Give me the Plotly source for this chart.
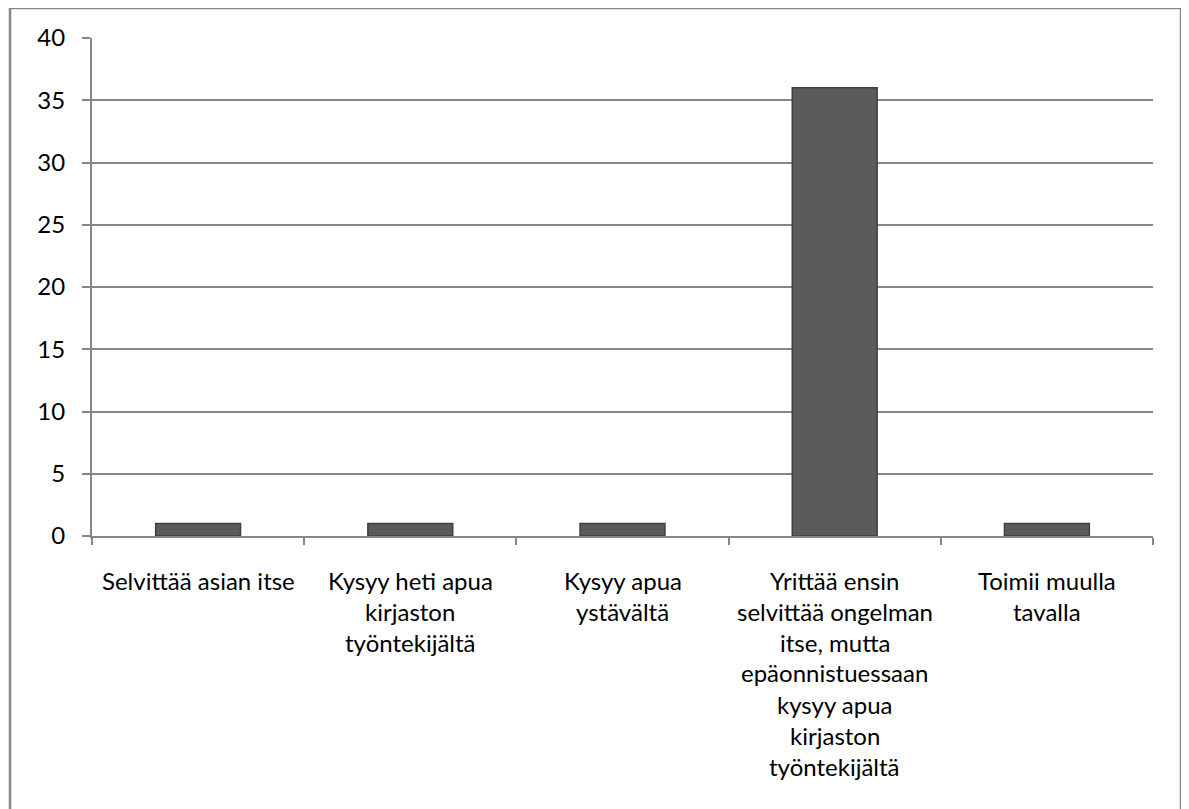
import plotly.graph_objects as go

categories = [
    "Selvittää asian itse",
    "Kysyy heti apua kirjaston työntekijältä",
    "Kysyy apua ystävältä",
    "Yrittää ensin selvittää ongelman itse, mutta epäonnistuessaan kysyy apua kirjaston työntekijältä",
    "Toimii muulla tavalla",
]
label_lines = [
    ["Selvittää asian itse"],
    ["Kysyy heti apua", "kirjaston", "työntekijältä"],
    ["Kysyy apua", "ystävältä"],
    ["Yrittää ensin", "selvittää ongelman", "itse, mutta", "epäonnistuessaan", "kysyy apua", "kirjaston", "työntekijältä"],
    ["Toimii muulla", "tavalla"],
]
values = [1, 1, 1, 36, 1]
y_ticks = [0, 5, 10, 15, 20, 25, 30, 35, 40]

W, H = 1189, 809
OFF = 8  # page body margin offset
L, R, T, B = 92 - OFF, 1153 - OFF, 38 - OFF, 536 - OFF
FONT = "Lato"

fig = go.Figure()
fig.add_trace(go.Bar(
    x=categories, y=values, width=0.4,
    marker=dict(color="#5b5b5b", line=dict(color="#3f3f3f", width=1.5)),
))

def px_x(p):
    return (p - OFF - L) / (R - L)

def px_y(p):
    return (B - (p - OFF)) / (B - T)

shapes = [dict(type="rect", xref="paper", yref="paper",
               x0=px_x(10), x1=px_x(1181), y0=px_y(840), y1=px_y(8),
               line=dict(color="#878787", width=2.5), fillcolor="rgba(0,0,0,0)", layer="below")]

annotations = []
for cat, lines in zip(categories, label_lines):
    for i, line in enumerate(lines):
        annotations.append(dict(
            x=cat, xref="x", yref="paper", y=px_y(580 + 31 * i),
            text=line, showarrow=False, xanchor="center", yanchor="middle",
            font=dict(family=FONT, size=24, color="#000000"),
        ))

fig.update_layout(
    width=W, height=H,
    margin=dict(l=L, r=W - R, t=T, b=H - B, pad=0),
    paper_bgcolor="white", plot_bgcolor="white",
    showlegend=False,
    shapes=shapes, annotations=annotations,
    bargap=0.6,
)
fig.update_xaxes(
    type="category", showticklabels=False, tickson="boundaries",
    ticks="outside", ticklen=7, tickcolor="#868686", tickwidth=2,
    showline=True, linecolor="#868686", linewidth=2, showgrid=False,
    range=[-0.5, 4.5],
)
fig.update_yaxes(
    range=[0, 40], tickvals=y_ticks, ticktext=[str(v) for v in y_ticks],
    ticks="outside", ticklen=8, tickcolor="#868686", tickwidth=2,
    showline=True, linecolor="#868686", linewidth=2,
    showgrid=True, gridcolor="#868686", gridwidth=1.5,
    zeroline=False, ticklabelstandoff=12,
    tickfont=dict(family=FONT, size=24, color="#000000"),
)

fig.write_html("out.html")
